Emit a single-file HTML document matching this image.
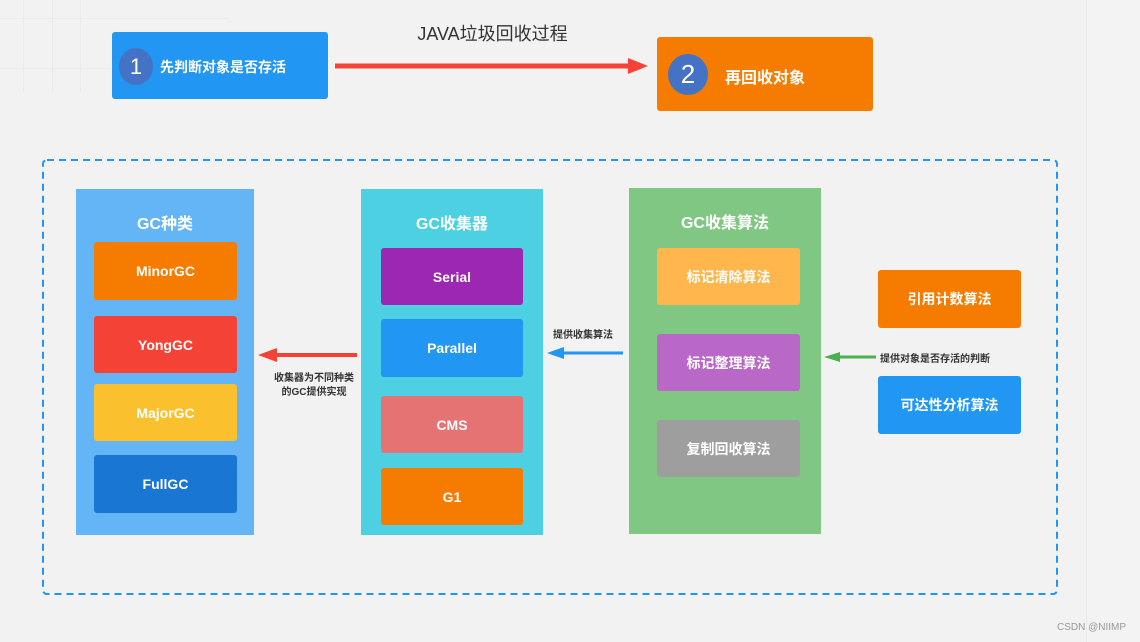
<!DOCTYPE html>
<html><head><meta charset="utf-8"><style>
*{margin:0;padding:0;box-sizing:border-box}
body{width:1140px;height:642px;background:#f2f2f2;position:relative;overflow:hidden;font-family:"Liberation Sans","Noto Sans CJK SC",sans-serif}
.a{position:absolute}
.b{position:absolute;border-radius:3px;color:#fff;font-weight:bold;font-size:14px;display:flex;align-items:center;justify-content:center}
.p{position:absolute;color:#fff;font-weight:bold;font-size:16px;text-align:center}
.l{position:absolute;font-size:10px;font-weight:bold;color:#333;white-space:nowrap}
</style></head><body>
<div class="a" style="left:1086px;top:0;width:54px;height:642px;background:#f3f3f3;border-left:1px solid #ebebeb"></div>
<div class="a" style="left:0;top:18px;width:230px;height:1px;background:#ebebeb"></div>
<div class="a" style="left:0;top:68px;width:135px;height:1px;background:#ebebeb"></div>
<div class="a" style="left:23px;top:0;width:1px;height:92px;background:#ebebeb"></div>
<div class="a" style="left:52px;top:0;width:1px;height:92px;background:#ebebeb"></div>
<div class="a" style="left:80px;top:0;width:1px;height:92px;background:#ebebeb"></div>

<div class="a" style="left:380px;top:20px;width:225px;text-align:center;font-size:18px;color:#333">JAVA垃圾回收过程</div>

<div class="a" style="left:112px;top:32px;width:216px;height:67px;background:#2196f3;border-radius:3px"></div>
<div class="a" style="left:119px;top:48px;width:34px;height:37px;border-radius:50%;background:#4472c4;color:#fff;font-size:22px;text-align:center;line-height:37px">1</div>
<div class="a" style="left:160px;top:57px;color:#fff;font-weight:bold;font-size:14px">先判断对象是否存活</div>

<div class="a" style="left:657px;top:37px;width:216px;height:74px;background:#f57c00;border-radius:3px"></div>
<div class="a" style="left:668px;top:54px;width:40px;height:41px;border-radius:50%;background:#4472c4;color:#fff;font-size:26px;text-align:center;line-height:41px">2</div>
<div class="a" style="left:725px;top:64px;color:#fff;font-weight:bold;font-size:16px">再回收对象</div>

<svg class="a" style="left:0;top:0" width="1140" height="642">
<line x1="335" y1="66" x2="630" y2="66" stroke="#f44336" stroke-width="5"/>
<polygon points="628,58 648,66 628,74" fill="#f44336"/>
<rect x="43" y="160" width="1014" height="434" rx="4" fill="none" stroke="#2196f3" stroke-width="2" stroke-dasharray="7,5"/>
<line x1="357" y1="355" x2="275" y2="355" stroke="#f44336" stroke-width="4"/>
<polygon points="277,348 258,355 277,362" fill="#f44336"/>
<line x1="623" y1="353" x2="562" y2="353" stroke="#2196f3" stroke-width="3"/>
<polygon points="564,347 547,353 564,359" fill="#2196f3"/>
<line x1="876" y1="357" x2="838" y2="357" stroke="#4caf50" stroke-width="3"/>
<polygon points="840,352 824,357 840,362" fill="#4caf50"/>
</svg>

<div class="a" style="left:76px;top:189px;width:178px;height:346px;background:#64b5f6"></div>
<div class="p" style="left:76px;top:210px;width:178px">GC种类</div>
<div class="b" style="left:94px;top:242px;width:143px;height:58px;background:#f57c00">MinorGC</div>
<div class="b" style="left:94px;top:316px;width:143px;height:57px;background:#f44336">YongGC</div>
<div class="b" style="left:94px;top:384px;width:143px;height:57px;background:#fbc02d">MajorGC</div>
<div class="b" style="left:94px;top:455px;width:143px;height:58px;background:#1976d2">FullGC</div>

<div class="a" style="left:361px;top:189px;width:182px;height:346px;background:#4dd0e1"></div>
<div class="p" style="left:361px;top:210px;width:182px">GC收集器</div>
<div class="b" style="left:381px;top:248px;width:142px;height:57px;background:#9c27b0">Serial</div>
<div class="b" style="left:381px;top:319px;width:142px;height:58px;background:#2196f3">Parallel</div>
<div class="b" style="left:381px;top:396px;width:142px;height:57px;background:#e57373">CMS</div>
<div class="b" style="left:381px;top:468px;width:142px;height:57px;background:#f57c00">G1</div>

<div class="a" style="left:629px;top:188px;width:192px;height:346px;background:#81c784"></div>
<div class="p" style="left:629px;top:209px;width:192px">GC收集算法</div>
<div class="b" style="left:657px;top:248px;width:143px;height:57px;background:#ffb74d">标记清除算法</div>
<div class="b" style="left:657px;top:334px;width:143px;height:57px;background:#ba68c8">标记整理算法</div>
<div class="b" style="left:657px;top:420px;width:143px;height:57px;background:#9e9e9e">复制回收算法</div>

<div class="b" style="left:878px;top:270px;width:143px;height:58px;background:#f57c00">引用计数算法</div>
<div class="b" style="left:878px;top:376px;width:143px;height:58px;background:#2196f3">可达性分析算法</div>

<div class="l" style="left:262px;top:372px;width:104px;text-align:center;line-height:14px">收集器为不同种类<br>的GC提供实现</div>
<div class="l" style="left:553px;top:326px">提供收集算法</div>
<div class="l" style="left:880px;top:350px">提供对象是否存活的判断</div>

<div class="a" style="left:1057px;top:622px;font-size:10px;color:#999">CSDN @NIIMP</div>
</body></html>
